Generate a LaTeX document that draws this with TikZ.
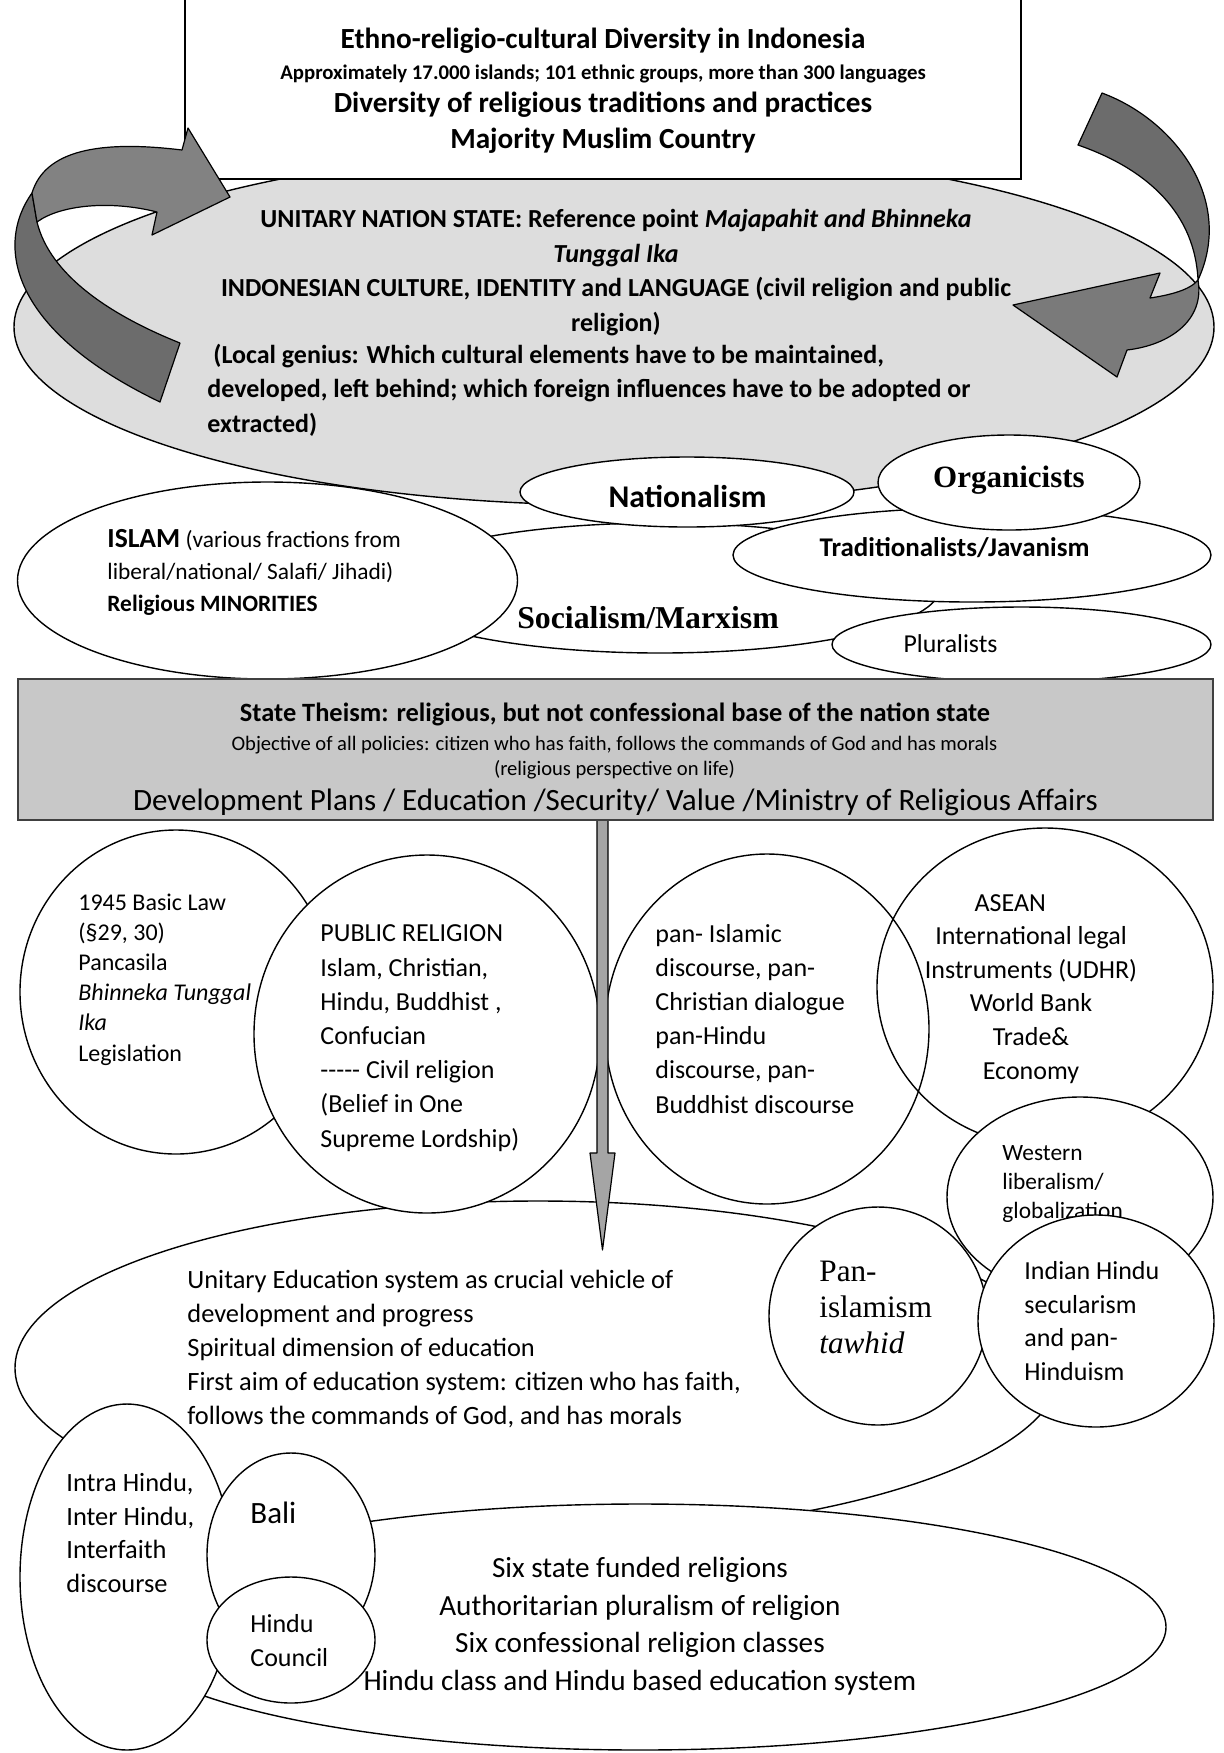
\documentclass[tikz,border=0pt]{standalone}
\usepackage{fontspec}
\setmainfont{Carlito}
\newfontfamily\timesfont{Liberation Serif}
\usetikzlibrary{shapes.geometric}

\definecolor{unitygrey}{RGB}{221,221,221}
\definecolor{theismgrey}{RGB}{200,200,200}
\definecolor{bandlight}{RGB}{130,130,130}
\definecolor{banddark}{RGB}{108,108,108}
\definecolor{bandmid}{RGB}{122,122,122}
\definecolor{shaftgrey}{RGB}{165,165,165}

\tikzset{
  bubble/.style={draw, ellipse, fill=white, inner sep=0pt, line width=0.7pt},
  band/.style={line width=0.6pt, line join=round},
  lbl/.style={inner sep=0pt, align=left, font=\fontsize{13}{17}\selectfont},
  ctr/.style={inner sep=0pt, align=center},
}

\begin{document}
\begin{tikzpicture}[x=0.5pt, y=-0.5pt, every node/.style={black}]
\useasboundingbox (0,0) rectangle (1223,1753);

% nation state and the currents below it
\node[bubble, fill=unitygrey, minimum width=600pt, minimum height=178pt] (unity) at (614,327) {};
\node[bubble, minimum width=280pt, minimum height=65pt] (socialism) at (660,588) {};
\node[bubble, minimum width=250pt, minimum height=98.5pt] (islam) at (267.5,580.5) {};
\node[bubble, minimum width=167pt, minimum height=35pt] (nationalism) at (687,492) {};
\node[bubble, minimum width=239pt, minimum height=47pt] (trad) at (972,555) {};
\node[bubble, minimum width=131pt, minimum height=47.5pt] (organicists) at (1009,482.5) {};
\node[bubble, minimum width=189.5pt, minimum height=37.5pt] (pluralists) at (1021.5,644.5) {};

% (multi-line nodes sit on the baseline of their last line)
\node[ctr, anchor=base, font=\bfseries\fontsize{13}{17.2}\selectfont] (unitytext) at (616,331) {UNITARY NATION STATE: Reference point \textit{Majapahit and Bhinneka}\\\textit{Tunggal Ika}\\INDONESIAN CULTURE, IDENTITY and LANGUAGE (civil religion and public\\religion)};
\node[lbl, anchor=base west, font=\bfseries\fontsize{13}{17.2}\selectfont] (geniustext) at (207,432) {\hspace*{3pt}(Local genius: Which cultural elements have to be maintained,\\developed, left behind; which foreign influences have to be adopted or\\extracted)};

\node[lbl, anchor=base west, font=\fontsize{11.7}{15.8}\selectfont] (islamtext) at (107,611) {\textbf{\fontsize{13.8}{15.8}\selectfont ISLAM} (various fractions from\\liberal/national/ Salafi/ Jihadi)\\\textbf{Religious MINORITIES}};
\node[ctr, anchor=base, font=\bfseries\fontsize{15.8}{18}\selectfont] (nattext) at (687.5,507) {Nationalism};
\node[ctr, anchor=base, font=\timesfont\bfseries\fontsize{15.5}{18}\selectfont] (orgtext) at (1009,487) {Organicists};
\node[ctr, anchor=base, font=\bfseries\fontsize{13.5}{16}\selectfont] (tradtext) at (954.5,556) {Traditionalists/Javanism};
\node[ctr, anchor=base, font=\timesfont\bfseries\fontsize{15.9}{18}\selectfont] (soctext) at (648,628) {Socialism/Marxism};
\node[ctr, anchor=base, font=\fontsize{12.9}{15}\selectfont] (plurtext) at (950.5,652) {Pluralists};

% diversity box on top
\node[draw, fill=white, line width=0.6pt, inner sep=0pt, minimum width=418pt, minimum height=92pt] (diversity) at (603,87) {};
\node[ctr, anchor=base, font=\bfseries\fontsize{14.6}{17}\selectfont] (divtitle) at (603,48) {Ethno-religio-cultural Diversity in Indonesia};
\node[ctr, anchor=base, font=\bfseries\fontsize{10.4}{12}\selectfont] (divfacts) at (603,79) {Approximately 17.000 islands; 101 ethnic groups, more than 300 languages};
\node[ctr, anchor=base, font=\bfseries\fontsize{14.6}{18}\selectfont] (divtext) at (603,148) {Diversity of religious traditions and practices\\Majority Muslim Country};

% curved arrows
\filldraw[band, fill=banddark] (32,193) .. controls (-5,245) and (10,330) .. (160,402) -- (180,343) .. controls (110,315) and (50,275) .. (37,222) -- cycle;
\filldraw[band, fill=bandlight] (32,193) .. controls (45,150) and (100,140) .. (182,150) -- (188,128) -- (230,197) -- (152,235) -- (157,212) .. controls (110,200) and (60,205) .. (37,222) -- cycle;
\filldraw[band, fill=banddark] (1102,93) .. controls (1175,120) and (1235,200) .. (1198,280) .. controls (1195,215) and (1150,170) .. (1078,145) -- cycle;
\filldraw[band, fill=bandmid] (1198,280) .. controls (1205,320) and (1170,345) .. (1127,350) -- (1117,377) -- (1013,305) -- (1160,273) -- (1150,298) .. controls (1170,295) and (1190,290) .. (1198,280) -- cycle;

% state theism
\node[draw=black!75, fill=theismgrey, line width=1pt, inner sep=0pt, minimum width=597.5pt, minimum height=70.5pt] (theism) at (615.5,749.5) {};
\node[ctr, anchor=base, font=\bfseries\fontsize{13.2}{16}\selectfont] (theismtitle) at (615,721) {State Theism: religious, but not confessional base of the nation state};
\node[ctr, anchor=base, font=\fontsize{10.3}{12.5}\selectfont] (theismaim) at (614.5,775) {Objective of all policies: citizen who has faith, follows the commands of God and has morals\\(religious perspective on life)};
\node[ctr, anchor=base, font=\fontsize{15.5}{18}\selectfont] (theismplans) at (615.5,810) {Development Plans / Education /Security/ Value /Ministry of Religious Affairs};

% education and the circles round it
\node[bubble, minimum width=523pt, minimum height=167pt] (education) at (538,1368) {};
\node[bubble, minimum width=156pt, minimum height=162pt] (basiclaw) at (176,992) {};
\node[bubble, minimum width=173pt, minimum height=179pt] (publicrel) at (427,1034) {};
\node[lbl, anchor=base west, font=\fontsize{12}{15.1}\selectfont] (lawtext) at (78,1061) {1945 Basic Law\\(§29, 30)\\Pancasila\\\textit{Bhinneka Tunggal}\\\textit{Ika}\\Legislation};
\node[bubble, draw=none, minimum width=168pt, minimum height=159pt] (intl) at (1045,987) {};
\node[bubble, minimum width=162pt, minimum height=175pt] (panrel) at (767,1029) {};
\node[bubble, fill=none, minimum width=168pt, minimum height=159pt] at (intl) {};
\node[bubble, minimum width=133pt, minimum height=100pt] (western) at (1080,1197) {};
\node[lbl, anchor=base west, font=\fontsize{11.7}{14.5}\selectfont] (westtext) at (1002,1218) {Western\\liberalism/\\globalization};
\node[bubble, minimum width=109pt, minimum height=109pt] (panislam) at (878,1316) {};
\node[bubble, minimum width=118pt, minimum height=106pt] (indian) at (1096,1321) {};

\node[lbl, anchor=base west, font=\fontsize{13}{17.1}\selectfont] (pubtext) at (320,1147) {PUBLIC RELIGION\\Islam, Christian,\\Hindu, Buddhist ,\\Confucian\\-{}-{}-{}-{}- Civil religion\\(Belief in One\\Supreme Lordship)};
\node[lbl, anchor=base west, font=\fontsize{13}{17.1}\selectfont] (pantext) at (655,1113) {pan- Islamic\\discourse, pan-\\Christian dialogue\\pan-Hindu\\discourse, pan-\\Buddhist discourse};
\node[ctr, anchor=base, font=\fontsize{13}{16.8}\selectfont] (intltext) at (1031,1079) {ASEAN\hspace*{1.6em}\\International legal\\Instruments (UDHR)\\World Bank\\Trade\&\\Economy};
\node[lbl, anchor=base west, font=\timesfont\fontsize{15.6}{17.8}\selectfont] (panistext) at (819,1353) {Pan-\\islamism\\\textit{tawhid}};
\node[lbl, anchor=base west, font=\fontsize{13}{16.7}\selectfont] (indiantext) at (1024,1380) {Indian Hindu\\secularism\\and pan-\\Hinduism};

% arrow down from the state box
\coordinate (tip) at (602.5,1250);
\filldraw[band, fill=shaftgrey] (597,0 |- theism.south) -- (597,1153) -- (590,1153) -- (tip) -- (615,1153) -- (608,1153) -- (608,0 |- theism.south);

% Bali and the state funded religions
\node[bubble, minimum width=526pt, minimum height=123pt] (funded) at (640,1627) {};
\node[bubble, minimum width=107pt, minimum height=173pt] (discourse) at (127,1577) {};
\node[bubble, minimum width=84pt, minimum height=102pt] (bali) at (291,1555) {};
\node[bubble, minimum width=84pt, minimum height=63pt] (council) at (291,1640) {};

\node[lbl, anchor=base west, font=\fontsize{13.2}{16.9}\selectfont] (edutext) at (187,1424) {Unitary Education system as crucial vehicle of\\development and progress\\Spiritual dimension of education\\First aim of education system: citizen who has faith,\\follows the commands of God, and has morals};
\node[lbl, anchor=base west, font=\fontsize{13.2}{16.7}\selectfont] (disctext) at (66,1592) {Intra Hindu,\\Inter Hindu,\\Interfaith\\discourse};
\node[lbl, anchor=base west, font=\fontsize{15.5}{18}\selectfont] (balitext) at (250,1523) {Bali};
\node[lbl, anchor=base west, font=\fontsize{13}{17}\selectfont] (counciltext) at (250,1666) {Hindu\\Council};
\node[ctr, anchor=base, font=\fontsize{14.6}{18.7}\selectfont] (fundedtext) at (640,1690) {Six state funded religions\\Authoritarian pluralism of religion\\Six confessional religion classes\\Hindu class and Hindu based education system};

\end{tikzpicture}
\end{document}
